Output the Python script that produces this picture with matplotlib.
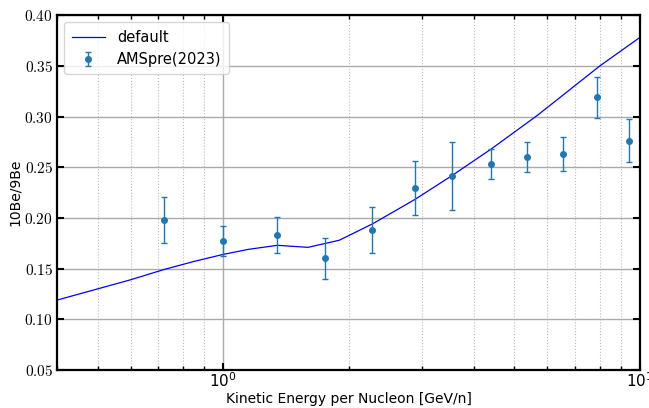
import numpy as np
import matplotlib
matplotlib.use("Agg")
import matplotlib.pyplot as plt
from matplotlib.ticker import FuncFormatter, LogLocator, NullFormatter

plt.rcParams['mathtext.fontset'] = 'cm'

# model curve (default propagation)
model_e = [0.40, 0.50, 0.60, 0.72, 0.85, 1.00, 1.15, 1.35, 1.60, 1.90,
           2.28, 2.88, 3.55, 4.40, 5.67, 8.02, 10.0]
model_ratio = [0.119, 0.130, 0.139, 0.149, 0.157, 0.164, 0.169, 0.173, 0.171, 0.178,
               0.194, 0.218, 0.242, 0.268, 0.301, 0.350, 0.378]

# AMS data points
ams_e = [0.722, 1.00, 1.35, 1.76, 2.28, 2.88, 3.55, 4.40, 5.37, 6.54, 7.89, 9.41]
ams_ratio = [0.198, 0.177, 0.183, 0.160, 0.188, 0.230, 0.241, 0.253, 0.260, 0.263, 0.319, 0.276]
ams_hi = [0.221, 0.192, 0.201, 0.180, 0.211, 0.256, 0.275, 0.268, 0.275, 0.280, 0.339, 0.298]
ams_lo = [0.175, 0.162, 0.165, 0.140, 0.165, 0.203, 0.208, 0.238, 0.245, 0.246, 0.299, 0.255]

err_lo = np.array(ams_ratio) - np.array(ams_lo)
err_hi = np.array(ams_hi) - np.array(ams_ratio)

fig, ax = plt.subplots(figsize=(6.49, 4.08), dpi=100)
fig.subplots_adjust(left=0.088, right=0.986, top=0.963, bottom=0.093)

ax.plot(model_e, model_ratio, color='#0000ff', lw=0.9, label='default')
ax.errorbar(ams_e, ams_ratio, yerr=[err_lo, err_hi], fmt='o', ms=4,
            color='#1f77b4', ecolor='#1f77b4', elinewidth=1, capsize=2,
            capthick=1, label='AMSpre(2023)')

ax.set_xscale('log')
ax.set_xlim(0.4, 10)
ax.set_ylim(0.05, 0.40)
ax.set_yticks(np.arange(0.05, 0.401, 0.05))
ax.yaxis.set_major_formatter(FuncFormatter(lambda v, p: r'$%.2f$' % v))
ax.xaxis.set_minor_locator(LogLocator(base=10, subs=np.arange(2, 10)))
ax.xaxis.set_minor_formatter(NullFormatter())

ax.grid(True, which='major', color='#aaaaaa', lw=1)
ax.grid(True, which='minor', axis='x', color='#bbbbbb', lw=0.8, ls=':')
ax.set_axisbelow(True)

ax.tick_params(which='both', direction='in', top=True, right=True, labelsize=11)
ax.tick_params(which='major', length=5, width=1.5)
ax.tick_params(which='minor', length=3, width=1)
ax.tick_params(axis='x', pad=1)
ax.tick_params(axis='y', pad=3)
for s in ax.spines.values():
    s.set_linewidth(1.6)

ax.set_xlabel('Kinetic Energy per Nucleon [GeV/n]', fontsize=10, labelpad=1)
ax.set_ylabel('10Be/9Be', fontsize=10, labelpad=2)
ax.legend(loc='upper left', fontsize=10.5, framealpha=0.8, handlelength=2.3,
          borderpad=0.5)

fig.savefig('out.png', dpi=100)
